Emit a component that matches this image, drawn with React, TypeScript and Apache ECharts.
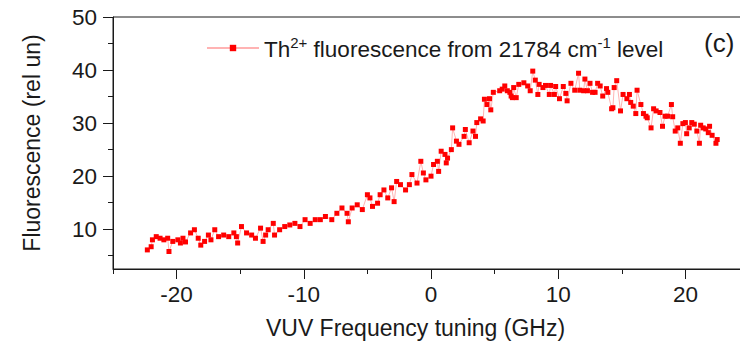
import React, { useEffect, useRef } from 'react';
import * as echarts from 'echarts';

const xTickValues = [-20, -10, 0, 10, 20];
const xMinorTickValues = [-25, -15, -5, 5, 15, 25];
const yTickValues = [10, 20, 30, 40, 50];
const yMinorTickValues = [5, 15, 25, 35, 45];

const seriesName = 'Th2+ fluorescence from 21784 cm-1 level';

const detuningGHz = [
  -22.3, -22.0, -21.9, -21.6, -21.3, -21.0, -20.7, -20.6, -20.3, -19.9,
  -19.7, -19.5, -19.3, -18.9, -18.6, -18.3, -18.1, -17.8, -17.5, -17.3,
  -17.0, -16.7, -16.3, -15.9, -15.5, -15.3, -15.2, -14.9, -14.5, -14.1,
  -13.8, -13.4, -13.2, -13.0, -12.8, -12.4, -12.3, -11.9, -11.5, -11.1,
  -10.7, -10.3, -9.9, -9.5, -9.1, -8.7, -8.3, -7.8, -7.4, -7.0,
  -6.6, -6.5, -6.2, -5.8, -5.4, -5.0, -4.8, -4.6, -4.2, -4.0,
  -3.7, -3.4, -3.1, -2.9, -2.7, -2.4, -2.0, -1.7, -1.5, -1.1,
  -0.8, -0.6, -0.4, 0.0, 0.2, 0.5, 0.6, 0.8, 1.1, 1.2,
  1.3, 1.6, 1.7, 2.0, 2.2, 2.6, 2.7, 3.0, 3.3, 3.5,
  3.6, 3.9, 4.1, 4.2, 4.4, 4.6, 4.7, 4.9, 5.4, 5.6,
  5.8, 6.0, 6.2, 6.3, 6.4, 6.5, 6.7, 6.9, 7.3, 7.6,
  7.8, 8.0, 8.2, 8.4, 8.5, 8.8, 9.0, 9.3, 9.4, 9.7,
  9.8, 10.1, 10.4, 10.6, 10.7, 11.0, 11.3, 11.6, 11.7, 12.0,
  12.1, 12.3, 12.5, 12.7, 12.9, 13.1, 13.3, 13.5, 13.8, 13.9,
  14.2, 14.3, 14.4, 14.6, 14.9, 15.1, 15.4, 15.6, 15.7, 15.9,
  16.1, 16.2, 16.5, 16.7, 16.9, 17.0, 17.3, 17.5, 17.7, 18.0,
  18.2, 18.4, 18.6, 18.9, 19.0, 19.2, 19.4, 19.6, 19.8, 20.0,
  20.1, 20.3, 20.5, 20.7, 20.9, 21.1, 21.2, 21.4, 21.6, 21.8,
  21.9, 22.1, 22.4, 22.5,
];

const fluorescence = [
  6.1, 6.7, 8.0, 8.6, 8.3, 8.0, 8.3, 5.8, 7.7, 8.0,
  7.4, 8.3, 7.6, 9.3, 9.9, 8.3, 7.0, 7.7, 8.9, 8.0,
  9.9, 8.6, 8.9, 8.6, 9.3, 8.6, 7.4, 10.5, 9.3, 8.9,
  8.3, 10.2, 7.7, 8.9, 9.9, 11.1, 8.9, 9.9, 10.5, 10.8,
  11.1, 10.5, 11.8, 11.1, 11.8, 11.8, 12.4, 11.8, 13.0, 14.0,
  13.0, 11.4, 14.0, 14.6, 13.7, 16.5, 15.9, 14.3, 14.9, 16.5,
  17.4, 15.9, 17.8, 15.2, 19.0, 18.4, 17.4, 18.4, 20.3, 18.7,
  22.8, 20.6, 19.3, 20.0, 22.2, 22.8, 20.9, 24.7, 24.1, 22.5,
  23.4, 25.0, 29.1, 26.6, 26.0, 27.5, 28.8, 26.3, 28.5, 27.5,
  30.1, 30.8, 30.4, 34.5, 33.5, 34.6, 32.5, 35.8, 36.1, 36.4,
  37.0, 36.1, 35.8, 35.1, 34.8, 36.7, 34.8, 37.3, 37.6, 37.0,
  36.1, 39.8, 38.1, 35.4, 37.3, 36.7, 37.1, 35.4, 37.1, 35.4,
  36.9, 34.6, 36.9, 35.6, 34.2, 37.5, 36.2, 39.4, 36.2, 36.1,
  38.3, 36.1, 37.5, 35.8, 35.8, 37.5, 37.0, 35.1, 36.5, 35.8,
  32.7, 32.9, 36.7, 38.0, 32.3, 35.4, 34.6, 35.4, 33.9, 33.2,
  31.8, 36.2, 33.5, 31.8, 31.3, 31.0, 29.1, 32.7, 32.3, 32.0,
  29.4, 31.3, 31.3, 33.5, 31.2, 28.5, 29.1, 26.2, 29.9, 30.1,
  28.0, 29.1, 30.1, 29.8, 28.5, 26.2, 29.6, 29.1, 28.9, 28.2,
  29.4, 27.7, 26.2, 26.9,
];

const FONT = '"Liberation Sans", Arial, Helvetica, sans-serif';
const INK = '#1a1a1a';

export default function App() {
  const ref = useRef<HTMLDivElement>(null);

  useEffect(() => {
    if (!ref.current) return;
    const chart = echarts.init(ref.current, null, { renderer: 'svg' });
    const data = detuningGHz.map((x, i) => [x, fluorescence[i]]);

    chart.setOption({
      animation: false,
      backgroundColor: '#ffffff',
      grid: {
        left: 113,
        top: 17,
        width: 636,
        height: 252,
        containLabel: false,
        outerBoundsMode: 'none',
        show: true,
        borderColor: INK,
        borderWidth: 1,
        backgroundColor: 'transparent',
      },
      legend: {
        show: true,
        left: 206,
        top: 35,
        padding: 0,
        itemWidth: 52,
        itemHeight: 8,
        data: [seriesName],
        formatter: () =>
          '{a|Th}{s|2+}{a| fluorescence from 21784 cm}{s|-1}{a| level}',
        textStyle: {
          fontFamily: FONT,
          color: INK,
          rich: {
            a: { fontSize: 22.5, fontFamily: FONT, color: INK, verticalAlign: 'bottom', lineHeight: 26 },
            s: { fontSize: 15, fontFamily: FONT, color: INK, verticalAlign: 'top', lineHeight: 26, padding: [0, 0, 8, 0] },
          },
        },
      },
      xAxis: [
        {
          type: 'value',
          min: -25,
          max: 25,
          position: 'bottom',
          axisLine: { show: true, onZero: false, lineStyle: { color: INK, width: 1 } },
          axisTick: { show: true, inside: false, length: 10, customValues: xTickValues, lineStyle: { color: INK, width: 1 } },
          axisLabel: { show: true, customValues: xTickValues, fontSize: 22.5, fontFamily: FONT, color: INK, margin: 14 },
          splitLine: { show: false },
          name: 'VUV Frequency tuning (GHz)',
          nameLocation: 'middle',
          nameGap: 47,
          nameTextStyle: { fontSize: 23, fontFamily: FONT, color: INK, padding: [0, 31, 0, 0] },
        },
        {
          type: 'value',
          min: -25,
          max: 25,
          position: 'bottom',
          axisLine: { show: false, onZero: false },
          axisTick: { show: true, inside: false, length: 5, customValues: xMinorTickValues, lineStyle: { color: INK, width: 1 } },
          axisLabel: { show: false },
          splitLine: { show: false },
        },
      ],
      yAxis: [
        {
          type: 'value',
          min: 2.5,
          max: 50,
          position: 'left',
          axisLine: { show: true, onZero: false, lineStyle: { color: INK, width: 1 } },
          axisTick: { show: true, inside: false, length: 10, customValues: yTickValues, lineStyle: { color: INK, width: 1 } },
          axisLabel: { show: true, customValues: yTickValues, fontSize: 22.5, fontFamily: FONT, color: INK, margin: 16 },
          splitLine: { show: false },
          name: 'Fluorescence (rel un)',
          nameLocation: 'middle',
          nameGap: 70,
          nameTextStyle: { fontSize: 23, fontFamily: FONT, color: INK },
        },
        {
          type: 'value',
          min: 2.5,
          max: 50,
          position: 'left',
          axisLine: { show: false, onZero: false },
          axisTick: { show: true, inside: false, length: 5, customValues: yMinorTickValues, lineStyle: { color: INK, width: 1 } },
          axisLabel: { show: false },
          splitLine: { show: false },
        },
      ],
      graphic: [
        {
          type: 'text',
          left: 704,
          top: 30,
          style: { text: '(c)', font: `26px ${FONT}`, fill: INK },
        },
      ],
      series: [
        {
          name: seriesName,
          type: 'line',
          xAxisIndex: 0,
          yAxisIndex: 0,
          data,
          symbol: 'rect',
          symbolSize: 5,
          showSymbol: true,
          showAllSymbol: true,
          itemStyle: { color: '#ff0000' },
          lineStyle: { color: '#ffb3b3', width: 1 },
          emphasis: { disabled: true },
        },
      ],
    });

    return () => chart.dispose();
  }, []);

  return (
    <div
      ref={ref}
      style={{ position: 'absolute', left: 0, top: 0, width: 740, height: 343 }}
    />
  );
}
